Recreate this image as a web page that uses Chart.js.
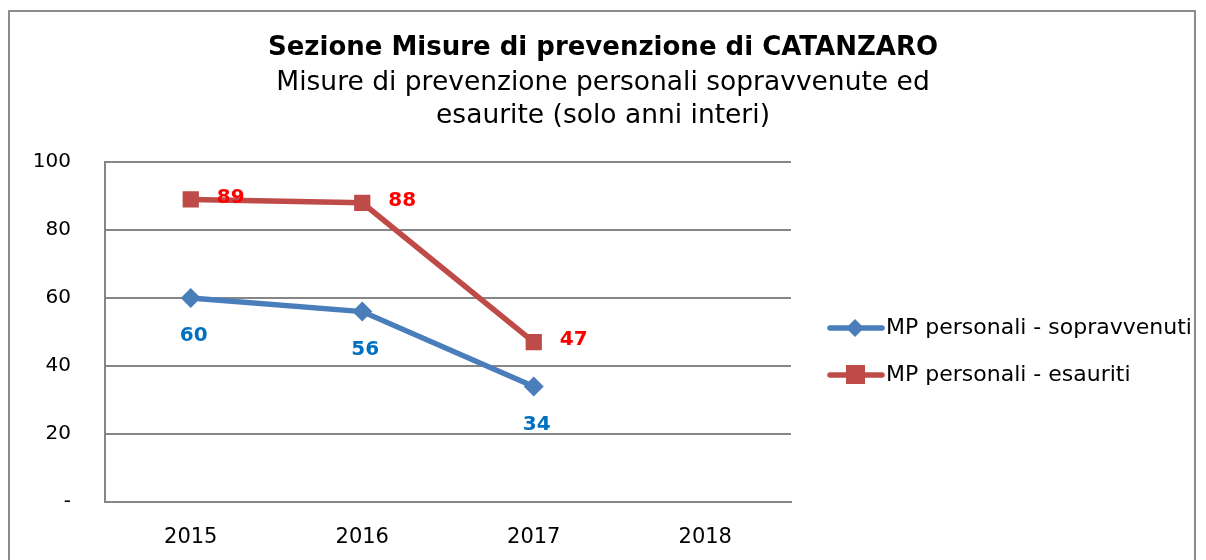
<!DOCTYPE html>
<html>
<head>
<meta charset="utf-8">
<script src="https://cdn.jsdelivr.net/npm/chart.js@4"></script>
<style>
html,body{margin:0;padding:0;background:#fff;}
#wrap{position:relative;width:1206px;height:560px;overflow:hidden;}
#frame{position:absolute;left:8px;top:10px;width:1188px;height:600px;border:2px solid #8c8c8c;box-sizing:border-box;}
canvas{position:absolute;left:0;top:0;}
</style>
</head>
<body>
<div id="wrap">
<div id="frame"></div>
<canvas id="c" width="1206" height="560"></canvas>
</div>
<script>
const years=["2015","2016","2017","2018"];
const sopravvenuti=[60,56,34,null];
const esauriti=[89,88,47,null];
const seriesNames=["MP personali - sopravvenuti","MP personali - esauriti"];
const yTicks=[0,20,40,60,80,100];

const FONT="'DejaVu Sans', Verdana, sans-serif";

/* value labels next to the points */
const valueLabels={
id:"valueLabels",
afterDatasetsDraw(chart){
const ctx=chart.ctx;
ctx.save();
ctx.font="bold 20px "+FONT;
ctx.textAlign="center";
ctx.textBaseline="middle";
chart.data.datasets.forEach((ds,i)=>{
const meta=chart.getDatasetMeta(i);
meta.data.forEach((pt,j)=>{
const v=ds.data[j];
if(v==null) return;
if(i==0){
ctx.fillStyle="#0070C0";
ctx.fillText(v,pt.x+3,pt.y+38);
}else{
ctx.fillStyle="#FF0000";
ctx.fillText(v,pt.x+40,pt.y-2);
}
});
});
ctx.restore();
}
};

/* legend: line with marker, like the spreadsheet */
const sideLegend={
id:"sideLegend",
afterDraw(chart){
const ctx=chart.ctx;
ctx.save();
const rows=[328,375];
chart.data.datasets.forEach((ds,i)=>{
const y=rows[i];
ctx.strokeStyle=ds.borderColor;
ctx.lineWidth=5.5;
ctx.lineCap="round";
ctx.beginPath();ctx.moveTo(830,y);ctx.lineTo(882,y);ctx.stroke();
ctx.fillStyle=ds.backgroundColor;
if(ds.pointStyle=="rectRot"){
ctx.beginPath();ctx.moveTo(855,y-9);ctx.lineTo(864,y);ctx.lineTo(855,y+9);ctx.lineTo(846,y);ctx.closePath();ctx.fill();
}else{
ctx.fillRect(846,y-10,19,19);
}
ctx.fillStyle="#000";
ctx.font="22px "+FONT;
ctx.textAlign="left";
ctx.textBaseline="middle";
ctx.fillText(ds.label,886,y);
});
ctx.restore();
}
};

new Chart(document.getElementById("c"),{
type:"line",
data:{
labels:years,
datasets:[
{label:seriesNames[0],data:sopravvenuti,borderColor:"#4A7EBB",backgroundColor:"#4A7EBB",borderWidth:5.5,
pointStyle:"rectRot",pointRadius:10,pointHoverRadius:10,pointBorderWidth:0},
{label:seriesNames[1],data:esauriti,borderColor:"#BE4B48",backgroundColor:"#BE4B48",borderWidth:5.5,
pointStyle:"rect",pointRadius:11.5,pointHoverRadius:11.5,pointBorderWidth:0}
]
},
options:{
responsive:false,
animation:false,
events:[],
layout:{padding:0},
plugins:{
legend:{display:false},
tooltip:{enabled:false},
title:{display:true,text:"Sezione Misure di prevenzione di CATANZARO",color:"#000",
font:{family:FONT,size:26,weight:"bold",lineHeight:1.27},padding:{top:32,bottom:0}},
subtitle:{display:true,text:["Misure di prevenzione personali sopravvenute ed","esaurite (solo anni interi)"],color:"#000",
font:{family:FONT,size:26.5,lineHeight:1.245},padding:{top:2,bottom:29}}
},
scales:{
x:{
offset:true,
grid:{display:false,drawTicks:false},
border:{display:true,color:"#868686",width:2},
ticks:{color:"#000",font:{family:FONT,size:21},padding:23},
afterFit(s){s.height=58;}
},
y:{
min:0,max:100,
afterBuildTicks(s){s.ticks=yTicks.map(v=>({value:v}));},
grid:{color:"#868686",lineWidth:2,drawTicks:false},
border:{display:true,color:"#868686",width:2},
ticks:{color:"#000",font:{family:FONT,size:20},padding:34,callback:v=>v==0?"-":v},
afterFit(s){s.width=105;}
},
/* empty room on the right for the legend */
room:{
type:"linear",position:"right",display:true,
grid:{display:false,drawTicks:false},
border:{display:false},
ticks:{display:false},
afterFit(s){s.width=415;}
}
}
},
plugins:[valueLabels,sideLegend]
});
</script>
</body>
</html>
